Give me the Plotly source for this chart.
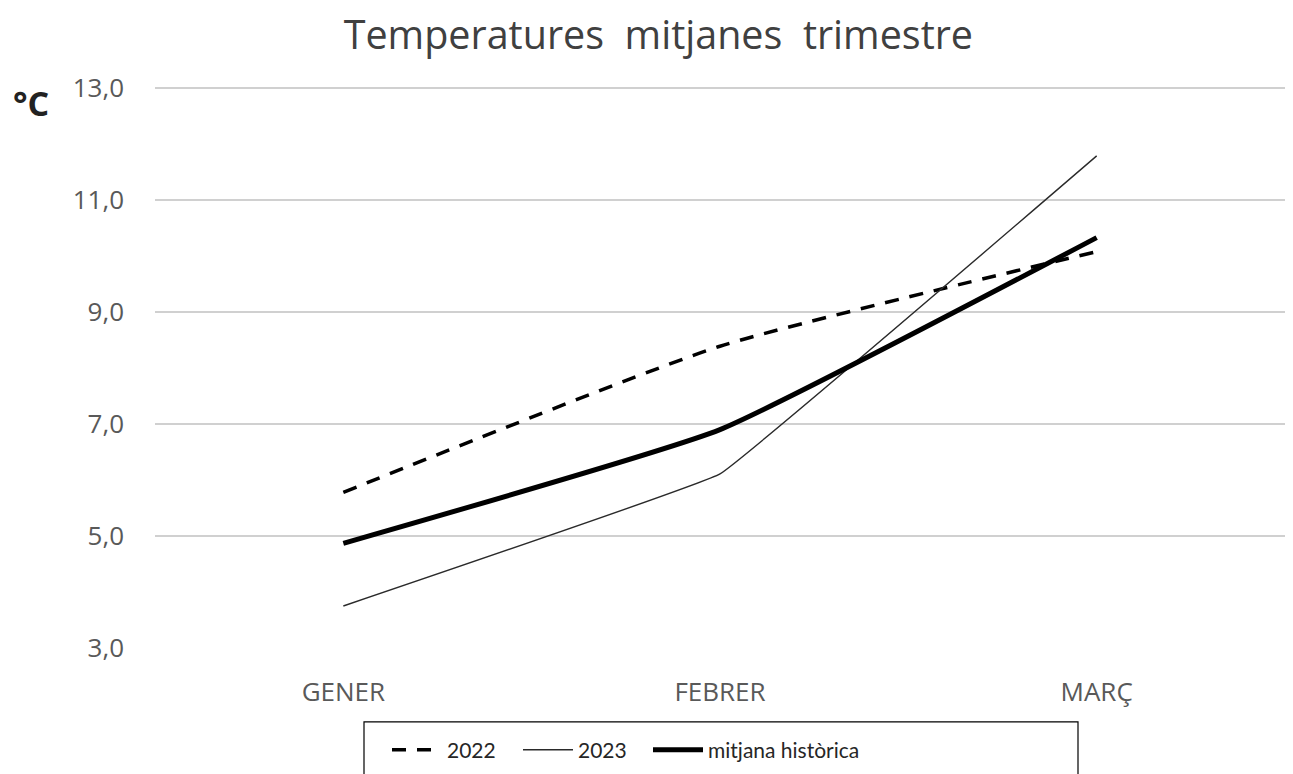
import plotly.graph_objects as go

months = ["GENER", "FEBRER", "MARÇ"]
t2022 = [5.78, 8.39, 10.08]
t2023 = [3.75, 6.11, 11.79]
mitjana = [4.87, 6.90, 10.33]
y_ticks = [3, 5, 7, 9, 11, 13]

L, W = 155, 1130  # page x of plot left edge, plot width (for paper conversions)

fig = go.Figure()
fig.add_trace(go.Scatter(x=months, y=t2022, name="2022", mode="lines", legend="legend",
                         line=dict(color="black", width=3.5, dash="14px,11px", shape="spline", smoothing=0.5)))
fig.add_trace(go.Scatter(x=months, y=t2023, name="2023", mode="lines", legend="legend2",
                         line=dict(color="#2a2a2a", width=1.4, shape="spline", smoothing=0.15)))
fig.add_trace(go.Scatter(x=months, y=mitjana, name="mitjana històrica", mode="lines", legend="legend3",
                         line=dict(color="black", width=5, shape="spline", smoothing=0.4)))

leg_common = dict(orientation="h", xanchor="left", y=-0.18, yanchor="middle",
                  borderwidth=0, bgcolor="rgba(0,0,0,0)",
                  font=dict(family="Lato", size=21, color="#262626"), itemwidth=50)

fig.update_layout(
    width=1293, height=774,
    paper_bgcolor="white", plot_bgcolor="white",
    separators=",.",
    margin=dict(l=147, r=16, t=79, b=133),
    title=dict(text="Temperatures  mitjanes  trimestre", x=0.503, xref="container", xanchor="center",
               y=0.965, yref="container", yanchor="middle",
               font=dict(family="Open Sans", size=39.5, color="#404040")),
    font=dict(family="Open Sans", color="#595959"),
    showlegend=True,
    legend=dict(x=(387 - L) / W, **leg_common),
    legend2=dict(x=(518 - L) / W, **leg_common),
    legend3=dict(x=(648 - L) / W, **leg_common),
    xaxis=dict(range=[-0.5, 2.5], showgrid=False, zeroline=False, showline=False,
               ticks="", tickfont=dict(size=26, color="#595959"), ticklabelstandoff=26),
    yaxis=dict(range=[3, 13.02], tickvals=y_ticks, tickformat=".1f", showgrid=True,
               gridcolor="#d0d0d0", gridwidth=1.5, zeroline=False, showline=False,
               ticks="", tickfont=dict(size=26, color="#595959"), ticklabelstandoff=30),
    shapes=[dict(type="rect", xref="paper", yref="paper",
                 x0=(364 - L) / W, x1=(1078 - L) / W,
                 y0=(649 - 800) / 562, y1=(649 - 723) / 562,
                 line=dict(color="black", width=1.2), fillcolor="rgba(0,0,0,0)", layer="below")],
    annotations=[dict(text="<b>°C</b>", xref="paper", yref="paper", x=(31 - L) / W,
                      y=(649 - 103) / 562, xanchor="center", yanchor="middle", showarrow=False,
                      font=dict(family="Open Sans", size=34, color="#222222"))],
)

fig.write_html("out.html")
